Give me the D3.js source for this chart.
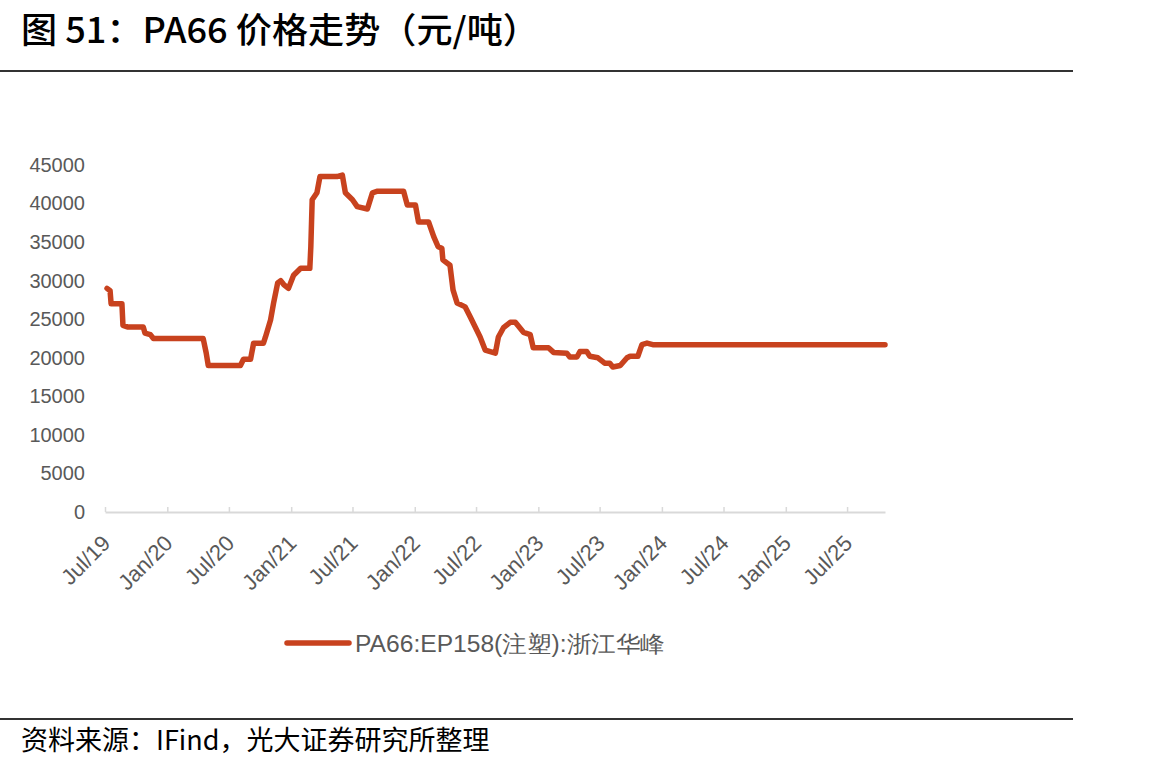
<!DOCTYPE html>
<html>
<head>
<meta charset="utf-8">
<script src="https://cdn.jsdelivr.net/npm/d3@7"></script>
<style>
  body { margin: 0; background: #fff; }
</style>
</head>
<body>
<div id="chart"></div>
<script>
// Price series (date, yuan/ton)
const dates = [
  "2019-07-07","2019-07-16","2019-07-19","2019-08-20","2019-08-23","2019-09-05","2019-10-22","2019-10-27",
  "2019-11-12","2019-11-21","2020-04-16","2020-04-25","2020-05-01","2020-08-04","2020-08-13","2020-09-03",
  "2020-09-12","2020-10-11","2020-10-17","2020-11-01","2020-11-10","2020-11-22","2020-12-01","2020-12-10",
  "2020-12-24","2021-01-08","2021-01-29","2021-02-25","2021-02-28","2021-03-04","2021-03-18","2021-03-27",
  "2021-05-16","2021-06-01","2021-06-10","2021-07-01","2021-07-15","2021-08-14","2021-08-29","2021-09-13",
  "2021-11-29","2021-12-10","2022-01-03","2022-01-12","2022-02-11","2022-02-26","2022-03-11","2022-03-22",
  "2022-03-25","2022-04-15","2022-04-24","2022-05-06","2022-05-30","2022-06-14","2022-07-13","2022-07-28",
  "2022-08-27","2022-09-05","2022-09-20","2022-10-10","2022-10-25","2022-11-18","2022-12-08","2022-12-17",
  "2023-01-31","2023-02-15","2023-03-26","2023-04-04","2023-04-25","2023-05-04","2023-05-24","2023-06-02",
  "2023-06-26","2023-07-16","2023-07-31","2023-08-09","2023-08-31","2023-09-20","2023-09-29","2023-10-22",
  "2023-11-03","2023-11-18","2023-12-05","2025-10-21"
];
const prices = [
  29000,28700,27000,27000,24200,24000,24000,23200,
  23000,22500,22500,20600,19000,19000,19800,19800,
  21900,21900,22700,24900,27100,29700,30000,29500,
  29000,30700,31600,31600,34400,40500,41400,43500,
  43500,43700,41400,40500,39600,39300,41400,41600,
  41600,39800,39800,37600,37600,35700,34400,34200,
  32700,32000,28800,27100,26600,25300,22700,21000,
  20600,22700,23900,24600,24600,23300,23000,21300,
  21300,20700,20600,20100,20100,20800,20800,20200,
  20000,19300,19300,18800,19000,20000,20200,20200,
  21700,21900,21700,21700
];
const yTicks = [0,5000,10000,15000,20000,25000,30000,35000,40000,45000];
const seriesName = "PA66:EP158(注塑):浙江华峰";
const titleText = "图 51：PA66 价格走势（元/吨）";
const sourceText = "资料来源：IFind，光大证券研究所整理";

const W = 1151, H = 769;
const lineColor = "#c8421e";
const labelColor = "#595959";

const parse = d3.timeParse("%Y-%m-%d");
const data = dates.map((d, i) => ({date: parse(d), value: prices[i]}));

const svg = d3.select("#chart").append("svg")
    .attr("width", W)
    .attr("height", H);

// title + rules
svg.append("text")
    .attr("x", 21).attr("y", 43)
    .attr("textLength", 518)
    .attr("lengthAdjust", "spacingAndGlyphs")
    .style("font-family", "Noto Sans CJK SC")
    .style("font-weight", "500")
    .style("font-size", "35px")
    .attr("fill", "#000")
    .text(titleText);
svg.append("line").attr("x1", 0).attr("x2", 1073).attr("y1", 71).attr("y2", 71)
    .attr("stroke", "#333").attr("stroke-width", 2);
svg.append("line").attr("x1", 0).attr("x2", 1073).attr("y1", 719).attr("y2", 719)
    .attr("stroke", "#333").attr("stroke-width", 2);
svg.append("text")
    .attr("x", 21).attr("y", 750)
    .style("font-family", "Noto Sans CJK SC")
    .style("font-size", "27px")
    .attr("fill", "#000")
    .text(sourceText);

//scales
let x = d3.scaleTime()
    .domain([parse("2019-07-01"), parse("2025-10-21")])
    .range([105, 885]);
let y = d3.scaleLinear()
    .domain([0, 45000])
    .range([512, 165]);

// y labels (no axis line)
let yAxis = svg.append("g")
    .attr("transform", "translate(85,0)")
    .call(d3.axisLeft(y).tickValues(yTicks).tickSize(0).tickPadding(0).tickFormat(d3.format("d")));
yAxis.select(".domain").remove();
yAxis.selectAll("text")
    .style("font-family", "Liberation Sans, Arial, sans-serif")
    .style("font-size", "20px")
    .attr("fill", labelColor);

// x axis
let xTicks = d3.timeMonth.every(6).range(parse("2019-07-01"), parse("2025-07-02"));
let xAxis = svg.append("g")
    .attr("transform", "translate(0,512)")
    .call(d3.axisTop(x).tickValues(xTicks).tickSizeInner(5).tickSizeOuter(0).tickFormat(() => ""));
xAxis.select(".domain").attr("stroke", "#d9d9d9").attr("stroke-width", 2);
xAxis.selectAll(".tick line").attr("stroke", "#d9d9d9").attr("stroke-width", 1.5);

svg.append("g")
    .selectAll("text")
    .data(xTicks)
    .enter().append("text")
    .attr("transform", d => "translate(" + (x(d) - 5) + ",533) rotate(-45)")
    .attr("text-anchor", "end")
    .attr("dy", "0.75em")
    .style("font-family", "Liberation Sans, Arial, sans-serif")
    .style("font-size", "22px")
    .attr("fill", labelColor)
    .text(d3.timeFormat("%b/%y"));

// the price line
svg.append("path")
    .datum(data)
    .attr("fill", "none")
    .attr("stroke", lineColor)
    .attr("stroke-width", 5.5)
    .attr("stroke-linejoin", "round")
    .attr("stroke-linecap", "round")
    .attr("d", d3.line()
        .x(d => x(d.date))
        .y(d => y(d.value)));

// legend
svg.append("line").attr("x1", 287).attr("x2", 349).attr("y1", 643).attr("y2", 643)
    .attr("stroke", lineColor).attr("stroke-width", 5.5).attr("stroke-linecap", "round");
svg.append("text").attr("x", 355).attr("y", 644)
    .attr("dy", "0.35em")
    .attr("textLength", 310)
    .attr("lengthAdjust", "spacingAndGlyphs")
    .style("font-family", "Liberation Sans, Arial, sans-serif")
    .style("font-size", "23px")
    .attr("fill", labelColor)
    .text(seriesName);
</script>
</body>
</html>
